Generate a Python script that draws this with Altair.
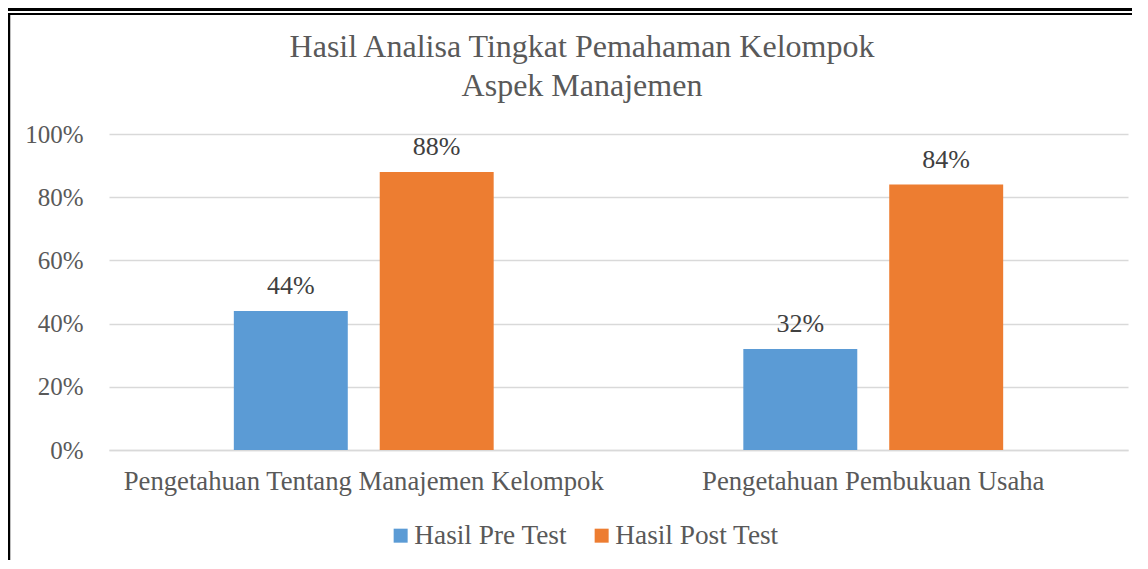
import altair as alt
import pandas as pd

categories = ["Pengetahuan Tentang Manajemen Kelompok", "Pengetahuan Pembukuan Usaha"]
series = ["Hasil Pre Test", "Hasil Post Test"]
pre_values = [0.44, 0.32]
post_values = [0.88, 0.84]
colors = ["#5B9BD5", "#ED7D31"]
y_ticks = [0, 0.2, 0.4, 0.6, 0.8, 1.0]
title_lines = ["Hasil Analisa Tingkat Pemahaman Kelompok", "Aspek Manajemen"]

rows = []
for i, c in enumerate(categories):
    rows.append({"category": c, "series": series[0], "value": pre_values[i]})
    rows.append({"category": c, "series": series[1], "value": post_values[i]})
df = pd.DataFrame(rows)

FONT = "Liberation Serif"
TXT = "#595959"

x_enc = alt.X("category:N", sort=categories,
              scale=alt.Scale(paddingInner=0.49, paddingOuter=0.245),
              axis=alt.Axis(title=None, labelAngle=0, labelFontSize=26.7, labelFont=FONT,
                            labelColor=TXT, labelPadding=18, ticks=False, domain=True,
                            domainColor="#d9d9d9", domainWidth=1.3, labelLimit=1000))
xoff = alt.XOffset("series:N", sort=series, scale=alt.Scale(paddingInner=0.219, paddingOuter=0))
y_enc = alt.Y("value:Q", scale=alt.Scale(domain=[0, 1]),
              axis=alt.Axis(title=None, values=y_ticks, format=".0%", labelFontSize=25,
                            labelFont=FONT, labelColor=TXT, labelPadding=26, ticks=False,
                            domain=False, grid=True, gridColor="#d9d9d9", gridWidth=1.3))

bars = alt.Chart(df).mark_bar().encode(
    x=x_enc, xOffset=xoff, y=y_enc,
    color=alt.Color("series:N", sort=series,
                    scale=alt.Scale(domain=series, range=colors),
                    legend=alt.Legend(title=None, orient="none", direction="horizontal",
                                      legendX=278, legendY=388, padding=0,
                                      symbolType="square", symbolSize=196,
                                      symbolStrokeWidth=0, labelFont=FONT, labelFontSize=27.3,
                                      labelColor=TXT, labelOffset=0, columnPadding=20,
                                      labelLimit=1000))
)

labels = alt.Chart(df).mark_text(font=FONT, fontSize=26, color="#404040",
                                 baseline="alphabetic", dy=-17).encode(
    x=alt.X("category:N", sort=categories), xOffset=alt.XOffset("series:N", sort=series),
    y="value:Q", text=alt.Text("value:Q", format=".0%")
)

one = alt.Chart(alt.Data(values=[{}]))
title1 = one.mark_text(font=FONT, fontSize=32, color=TXT, baseline="alphabetic",
                       align="center", text=title_lines[0]).encode(
    x=alt.value(473), y=alt.value(-77))
title2 = one.mark_text(font=FONT, fontSize=32, color=TXT, baseline="alphabetic",
                       align="center", text=title_lines[1]).encode(
    x=alt.value(473), y=alt.value(-38))

top1 = one.mark_rule(color="black", strokeWidth=3).encode(
    x=alt.value(-101), x2=alt.value(1030), y=alt.value(-124.5))
top2 = one.mark_rule(color="black", strokeWidth=2).encode(
    x=alt.value(-101), x2=alt.value(1030), y=alt.value(-120))
left = one.mark_rule(color="black", strokeWidth=2.5).encode(
    x=alt.value(-100), y=alt.value(-121), y2=alt.value(430))

chart = alt.layer(bars, labels, title1, title2, top1, top2, left).properties(
    width=1019, height=316,
    background="white",
    autosize=alt.AutoSizeParams(type="none"),
    padding={"left": 101, "top": 126, "right": 4, "bottom": 110},
).configure_view(stroke=None, strokeWidth=0)

chart.save("out.html", embed_options={"renderer": "svg", "actions": False})
